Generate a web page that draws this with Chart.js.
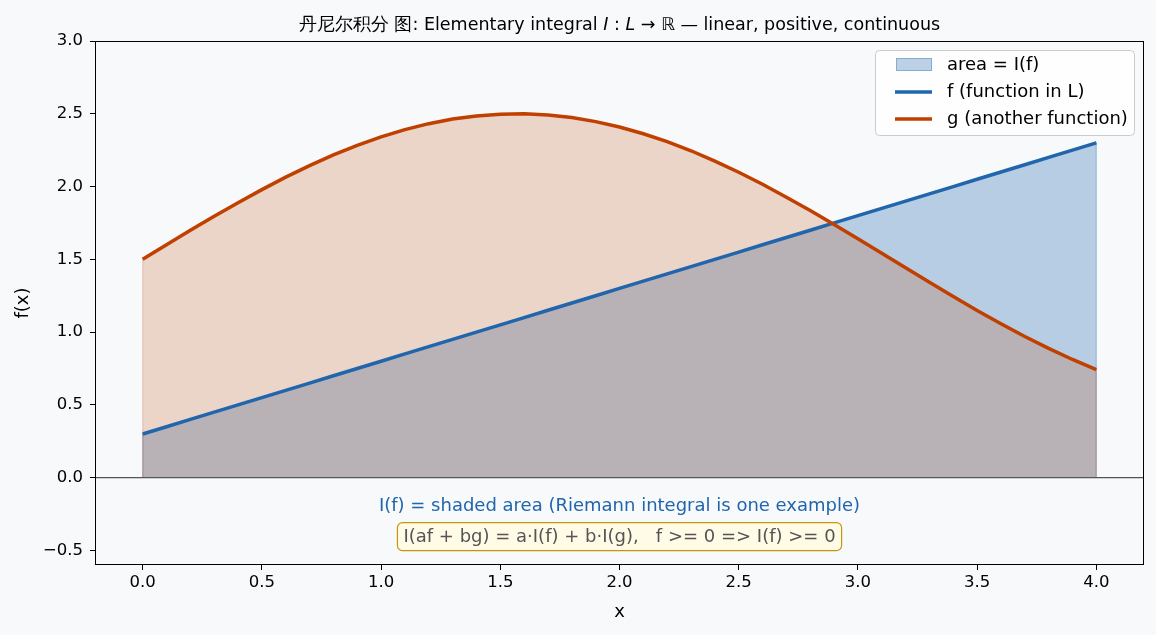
<!DOCTYPE html>
<html>
<head>
<meta charset="utf-8">
<script src="https://cdn.jsdelivr.net/npm/chart.js@4.4.1/dist/chart.umd.min.js"></script>
<style>
  html, body { margin: 0; padding: 0; background: #f7f9fb; }
  #wrap { width: 1156px; height: 635px; }
</style>
</head>
<body>
<div id="wrap"><canvas id="grafico" width="1156" height="635"></canvas></div>
<script>
// Datos
const xValues = [0, 0.1, 0.2, 0.3, 0.4, 0.5, 0.6, 0.7, 0.8, 0.9, 1.0, 1.1, 1.2, 1.3, 1.4, 1.5, 1.6, 1.7, 1.8, 1.9, 2.0,
  2.1, 2.2, 2.3, 2.4, 2.5, 2.6, 2.7, 2.8, 2.9, 3.0, 3.1, 3.2, 3.3, 3.4, 3.5, 3.6, 3.7, 3.8, 3.9, 4.0];
const fValues = [0.30, 0.35, 0.40, 0.45, 0.50, 0.55, 0.60, 0.65, 0.70, 0.75, 0.80, 0.85, 0.90, 0.95, 1.00, 1.05, 1.10, 1.15, 1.20, 1.25, 1.30,
  1.35, 1.40, 1.45, 1.50, 1.55, 1.60, 1.65, 1.70, 1.75, 1.80, 1.85, 1.90, 1.95, 2.00, 2.05, 2.10, 2.15, 2.20, 2.25, 2.30];
const gValues = [1.500, 1.600, 1.699, 1.796, 1.889, 1.979, 2.065, 2.144, 2.217, 2.283, 2.341, 2.391, 2.432, 2.464, 2.485, 2.497, 2.500, 2.492, 2.474, 2.446, 2.409,
  2.363, 2.309, 2.246, 2.175, 2.098, 2.016, 1.927, 1.835, 1.739, 1.641, 1.542, 1.442, 1.342, 1.245, 1.149, 1.058, 0.970, 0.888, 0.812, 0.743];
const xTicks = [0, 0.5, 1.0, 1.5, 2.0, 2.5, 3.0, 3.5, 4.0];
const yTicks = [-0.5, 0, 0.5, 1.0, 1.5, 2.0, 2.5, 3.0];
const legendLabels = ['area = I(f)', 'f (function in L)', 'g (another function)'];
const noteText = 'I(f) = shaded area (Riemann integral is one example)';
const boxText = 'I(af + bg) = a\u00b7I(f) + b\u00b7I(g),   f >= 0 => I(f) >= 0';

const BLUE = '#2166ac';
const ORANGE = '#c04000';
const FONT = '"DejaVu Sans", sans-serif';

// puntos de la curva y del área (cerrada hasta y = 0)
function puntos(ys) {
  return xValues.map((x, i) => ({ x: x, y: ys[i] }));
}
function area(ys) {
  const p = puntos(ys);
  return [{ x: xValues[0], y: 0 }, ...p, { x: xValues[xValues.length - 1], y: 0 }];
}

// Título con partes en cursiva
const tituloPlugin = {
  id: 'titulo',
  afterDraw(chart) {
    const ctx = chart.ctx;
    const tam = '17.5px ';
    const partes = [
      { t: '丹尼尔积分 图: Elementary integral ', f: tam + FONT },
      { t: 'I', f: 'italic ' + tam + FONT },
      { t: ' : ', f: tam + FONT },
      { t: 'L', f: 'italic ' + tam + FONT },
      { t: ' \u2192 \u211d', f: tam + FONT },
      { t: ' \u2014 linear, positive, continuous', f: tam + FONT }
    ];
    ctx.save();
    let total = 0;
    partes.forEach(p => { ctx.font = p.f; total += ctx.measureText(p.t).width; });
    const a = chart.chartArea;
    let x = (a.left + a.right) / 2 - total / 2;
    ctx.fillStyle = '#000';
    ctx.textBaseline = 'alphabetic';
    ctx.textAlign = 'left';
    partes.forEach(p => {
      ctx.font = p.f;
      ctx.fillText(p.t, x, 30);
      x += ctx.measureText(p.t).width;
    });
    ctx.restore();
  }
};

// Línea en cero, marco, notas y leyenda
const extrasPlugin = {
  id: 'extras',
  afterDatasetsDraw(chart) {
    const ctx = chart.ctx;
    const a = chart.chartArea;
    const xs = chart.scales.x;
    const ys = chart.scales.y;
    ctx.save();

    // línea horizontal en y = 0
    const y0 = ys.getPixelForValue(0);
    ctx.strokeStyle = '#555555';
    ctx.lineWidth = 1.3;
    ctx.beginPath();
    ctx.moveTo(a.left, y0);
    ctx.lineTo(a.right, y0);
    ctx.stroke();

    // marco
    ctx.strokeStyle = '#000';
    ctx.lineWidth = 1;
    ctx.strokeRect(a.left + 0.5, a.top + 0.5, a.right - a.left - 1, a.bottom - a.top - 1);

    // nota azul
    ctx.font = '18px ' + FONT;
    ctx.textAlign = 'center';
    ctx.textBaseline = 'middle';
    ctx.fillStyle = BLUE;
    ctx.fillText(noteText, xs.getPixelForValue(2.0), ys.getPixelForValue(-0.2));

    // caja con fórmula
    const bx = xs.getPixelForValue(2.0);
    const by = ys.getPixelForValue(-0.405);
    const w = ctx.measureText(boxText).width + 12;
    const h = 28;
    ctx.beginPath();
    ctx.roundRect(bx - w / 2, by - h / 2, w, h, 5);
    ctx.fillStyle = '#fffbe6';
    ctx.fill();
    ctx.strokeStyle = '#c8960c';
    ctx.lineWidth = 1.2;
    ctx.stroke();
    ctx.fillStyle = '#555555';
    ctx.fillText(boxText, bx, by + 1);

    // leyenda
    const lx = 875, ly = 50, lw = 259, lh = 85;
    ctx.beginPath();
    ctx.roundRect(lx + 0.5, ly + 0.5, lw, lh, 4);
    ctx.fillStyle = 'rgba(255,255,255,0.85)';
    ctx.fill();
    ctx.strokeStyle = '#cccccc';
    ctx.lineWidth = 1;
    ctx.stroke();

    ctx.fillStyle = 'rgba(33,102,172,0.3)';
    ctx.fillRect(896, 58, 36, 13);
    ctx.strokeStyle = 'rgba(33,102,172,0.35)';
    ctx.strokeRect(896.5, 58.5, 35, 12);

    ctx.lineWidth = 3.5;
    ctx.strokeStyle = BLUE;
    ctx.beginPath(); ctx.moveTo(895, 92); ctx.lineTo(932, 92); ctx.stroke();
    ctx.strokeStyle = ORANGE;
    ctx.beginPath(); ctx.moveTo(895, 119); ctx.lineTo(932, 119); ctx.stroke();

    ctx.fillStyle = '#000';
    ctx.textAlign = 'left';
    ctx.font = '18px ' + FONT;
    ctx.fillText(legendLabels[0], 947, 65);
    ctx.fillText(legendLabels[1], 947, 92);
    ctx.fillText(legendLabels[2], 947, 119);
    ctx.restore();
  }
};

function formatoTick(v) {
  return v.toFixed(1).replace('-', '\u2212');
}

new Chart(document.getElementById('grafico'), {
  type: 'scatter',
  data: {
    datasets: [
      {
        label: legendLabels[0],
        data: area(fValues),
        showLine: true,
        fill: 'origin',
        backgroundColor: 'rgba(33,102,172,0.3)',
        borderColor: 'rgba(33,102,172,0.35)',
        borderWidth: 1.2,
        pointRadius: 0,
        tension: 0,
        order: 4
      },
      {
        label: 'g area',
        data: area(gValues),
        showLine: true,
        fill: 'origin',
        backgroundColor: 'rgba(192,64,0,0.2)',
        borderColor: 'rgba(192,64,0,0.22)',
        borderWidth: 1.2,
        pointRadius: 0,
        tension: 0,
        order: 3
      },
      {
        label: legendLabels[1],
        data: puntos(fValues),
        showLine: true,
        borderColor: BLUE,
        borderWidth: 3.5,
        pointRadius: 0,
        fill: false,
        order: 2
      },
      {
        label: legendLabels[2],
        data: puntos(gValues),
        showLine: true,
        borderColor: ORANGE,
        borderWidth: 3.5,
        pointRadius: 0,
        fill: false,
        tension: 0,
        order: 1
      }
    ]
  },
  options: {
    responsive: false,
    animation: false,
    layout: { padding: { top: 41, right: 12, left: 0, bottom: 0 } },
    plugins: {
      legend: { display: false },
      tooltip: { enabled: false },
      title: { display: false }
    },
    scales: {
      x: {
        type: 'linear',
        min: -0.2,
        max: 4.2,
        afterBuildTicks: scale => { scale.ticks = xTicks.map(v => ({ value: v })); },
        afterFit: scale => { scale.height = 70; },
        grid: { drawOnChartArea: false, tickLength: 5, tickColor: '#000', drawTicks: true },
        border: { display: false },
        ticks: {
          color: '#000',
          font: { family: 'DejaVu Sans', size: 16.5 },
          padding: 3,
          maxRotation: 0,
          callback: v => formatoTick(v)
        },
        title: {
          display: true,
          text: 'x',
          color: '#000',
          font: { family: 'DejaVu Sans', size: 18 },
          padding: { top: 0, bottom: 12 }
        }
      },
      y: {
        type: 'linear',
        min: -0.6,
        max: 3.0,
        afterBuildTicks: scale => { scale.ticks = yTicks.map(v => ({ value: v })); },
        afterFit: scale => { scale.width = 95; },
        grid: { drawOnChartArea: false, tickLength: 5, tickColor: '#000', drawTicks: true },
        border: { display: false },
        ticks: {
          color: '#000',
          font: { family: 'DejaVu Sans', size: 16.5 },
          padding: 7,
          callback: v => formatoTick(v)
        },
        title: {
          display: true,
          text: 'f(x)',
          color: '#000',
          font: { family: 'DejaVu Sans', size: 18 },
          padding: { top: 13, bottom: 0 }
        }
      }
    }
  },
  plugins: [tituloPlugin, extrasPlugin]
});
</script>
</body>
</html>
